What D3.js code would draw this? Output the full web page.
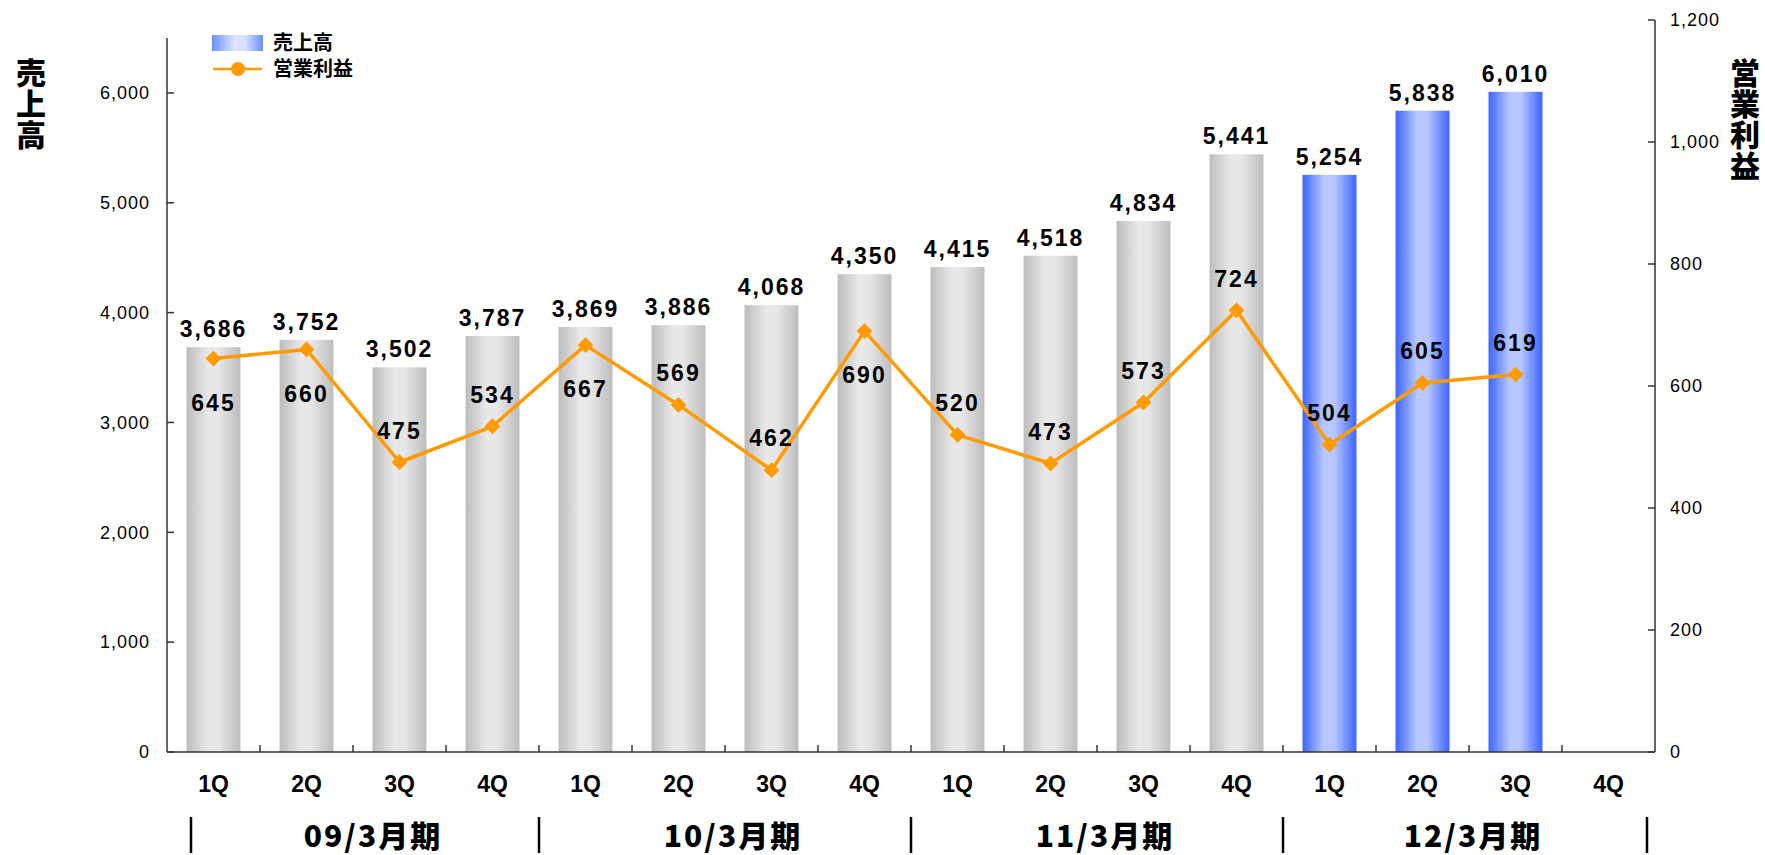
<!DOCTYPE html>
<html>
<head>
<meta charset="utf-8">
<script src="https://cdn.jsdelivr.net/npm/d3@7"></script>
<style>
  html, body { margin: 0; padding: 0; background: #fff; }
  svg { display: block; }
  text { font-family: "Liberation Sans", Arial, "Noto Sans CJK JP", sans-serif; fill: #000; }
  .jp { font-family: "Noto Sans CJK JP", sans-serif; }
  .vtitle { writing-mode: vertical-rl; text-orientation: upright; }
</style>
</head>
<body>
<div id="chart"></div>
<script>
(function () {
  "use strict";

  // quarters and fiscal periods
  const QUARTERS = ["1Q", "2Q", "3Q", "4Q", "1Q", "2Q", "3Q", "4Q", "1Q", "2Q", "3Q", "4Q", "1Q", "2Q", "3Q", "4Q"];
  const PERIODS = ["09/3月期", "10/3月期", "11/3月期", "12/3月期"];
  const CURRENT_PERIOD = "12/3月期";
  // 売上高 (left axis) and 営業利益 (right axis), null = not yet reported
  const SALES = [3686, 3752, 3502, 3787, 3869, 3886, 4068, 4350, 4415, 4518, 4834, 5441, 5254, 5838, 6010, null];
  const PROFIT = [645, 660, 475, 534, 667, 569, 462, 690, 520, 473, 573, 724, 504, 605, 619, null];
  const LEFT_TICKS = [0, 1000, 2000, 3000, 4000, 5000, 6000];
  const RIGHT_TICKS = [0, 200, 400, 600, 800, 1000, 1200];

  const width = 1765;
  const height = 855;
  const plotLeft = 167;
  const plotRight = 1655;
  const baseY = 752;
  const leftTop = 38;
  const rightTop = 20;
  const orange = "#ff9a00";

  const rows = QUARTERS.map((q, i) => ({
    i, q,
    period: PERIODS[Math.floor(i / 4)],
    sales: SALES[i],
    profit: PROFIT[i]
  }));

  const svg = d3.select("#chart").append("svg")
    .attr("width", width)
    .attr("height", height);

  // gradients for bars and legend swatch
  const defs = svg.append("defs");
  function hGradient(id, stops) {
    const g = defs.append("linearGradient").attr("id", id)
      .attr("x1", "0%").attr("x2", "100%").attr("y1", "0%").attr("y2", "0%");
    stops.forEach(([o, c]) => g.append("stop").attr("offset", o).attr("stop-color", c));
  }
  hGradient("grey-bar", [["0%", "#bcbcbc"], ["40%", "#e9e9e9"], ["60%", "#e6e6e6"], ["100%", "#bdbdbd"]]);
  hGradient("blue-bar", [["0%", "#3c64ff"], ["40%", "#b9c9ff"], ["60%", "#b6c6ff"], ["100%", "#3c64ff"]]);
  hGradient("blue-legend", [["0%", "#6a90ff"], ["45%", "#dde6ff"], ["65%", "#d5e0ff"], ["100%", "#6a90ff"]]);

  const x = d3.scaleBand()
    .domain(rows.map((d) => d.i))
    .range([plotLeft, plotRight])
    .paddingInner(0.42)
    .paddingOuter(0.21);
  const step = x.step();
  const yL = d3.scaleLinear().domain([0, 6500]).range([baseY, leftTop]);
  const yR = d3.scaleLinear().domain([0, 1200]).range([baseY, rightTop]);
  const cx = (d) => x(d.i) + x.bandwidth() / 2;

  // bars
  const withSales = rows.filter((d) => d.sales != null);
  svg.append("g").selectAll("rect")
    .data(withSales)
    .join("rect")
    .attr("x", (d) => x(d.i))
    .attr("width", x.bandwidth())
    .attr("y", (d) => yL(d.sales))
    .attr("height", (d) => baseY - yL(d.sales))
    .attr("fill", (d) => d.period === CURRENT_PERIOD ? "url(#blue-bar)" : "url(#grey-bar)");

  // axes
  const axisColor = "#333";
  const axes = svg.append("g").attr("stroke", axisColor).attr("stroke-width", 1.5).attr("fill", "none");
  axes.append("line").attr("x1", plotLeft).attr("x2", plotLeft).attr("y1", leftTop).attr("y2", baseY);
  axes.append("line").attr("x1", plotRight).attr("x2", plotRight).attr("y1", rightTop).attr("y2", baseY);
  axes.append("line").attr("x1", plotLeft).attr("x2", plotRight).attr("y1", baseY).attr("y2", baseY);
  // inner ticks
  LEFT_TICKS.forEach((t) => axes.append("line")
    .attr("x1", plotLeft).attr("x2", plotLeft + 7).attr("y1", yL(t)).attr("y2", yL(t)));
  RIGHT_TICKS.forEach((t) => axes.append("line")
    .attr("x1", plotRight - 7).attr("x2", plotRight).attr("y1", yR(t)).attr("y2", yR(t)));
  d3.range(1, QUARTERS.length).forEach((k) => axes.append("line")
    .attr("x1", plotLeft + k * step).attr("x2", plotLeft + k * step)
    .attr("y1", baseY).attr("y2", baseY - 7));

  const fmt = d3.format(",");
  svg.append("g").selectAll("text")
    .data(LEFT_TICKS)
    .join("text")
    .attr("x", plotLeft - 17)
    .attr("y", (t) => yL(t))
    .attr("dy", "0.35em")
    .attr("text-anchor", "end")
    .attr("font-size", 18)
    .attr("letter-spacing", 1)
    .text(fmt);
  svg.append("g").selectAll("text")
    .data(RIGHT_TICKS)
    .join("text")
    .attr("x", plotRight + 15)
    .attr("y", (t) => yR(t))
    .attr("dy", "0.35em")
    .attr("font-size", 18)
    .attr("letter-spacing", 1)
    .text(fmt);

  // quarter labels
  svg.append("g").selectAll("text")
    .data(rows)
    .join("text")
    .attr("x", cx)
    .attr("y", baseY + 32)
    .attr("dy", "0.36em")
    .attr("text-anchor", "middle")
    .attr("font-size", 23)
    .attr("font-weight", "bold")
    .text((d) => d.q);

  // fiscal period separators and labels
  const sepX = d3.range(PERIODS.length + 1).map((k) => {
    let v = plotLeft + k * 4 * step;
    if (k === 0) v += 24;
    if (k === PERIODS.length) v -= 8;
    return v;
  });
  svg.append("g").selectAll("line")
    .data(sepX)
    .join("line")
    .attr("x1", (v) => v).attr("x2", (v) => v)
    .attr("y1", 817).attr("y2", 853)
    .attr("stroke", "#000").attr("stroke-width", 2.5);
  svg.append("g").selectAll("text")
    .data(PERIODS)
    .join("text")
    .attr("class", "jp")
    .attr("x", (p, k) => (sepX[k] + sepX[k + 1]) / 2 + 8)
    .attr("y", 836)
    .attr("dy", "0.36em")
    .attr("text-anchor", "middle")
    .attr("font-size", 30)
    .attr("font-weight", 900)
    .attr("letter-spacing", 2)
    .text((p) => p);

  // profit line
  const withProfit = rows.filter((d) => d.profit != null);
  svg.append("path")
    .datum(withProfit)
    .attr("fill", "none")
    .attr("stroke", orange)
    .attr("stroke-width", 3.5)
    .attr("stroke-linejoin", "round")
    .attr("d", d3.line().x(cx).y((d) => yR(d.profit)));
  svg.append("g").selectAll("path")
    .data(withProfit)
    .join("path")
    .attr("transform", (d) => `translate(${cx(d)},${yR(d.profit)})`)
    .attr("d", d3.symbol(d3.symbolDiamond2, 160))
    .attr("fill", orange);

  // bar labels
  svg.append("g").selectAll("text")
    .data(withSales)
    .join("text")
    .attr("x", cx)
    .attr("y", (d) => yL(d.sales) - 10)
    .attr("text-anchor", "middle")
    .attr("font-size", 23)
    .attr("font-weight", "bold")
    .attr("letter-spacing", 2)
    .text((d) => fmt(d.sales));

  // profit labels: below the point when the bar label sits just above it
  svg.append("g").selectAll("text")
    .data(withProfit)
    .join("text")
    .attr("x", cx)
    .attr("y", (d) => {
      const py = yR(d.profit);
      const close = d.sales != null && py - yL(d.sales) < 70;
      return close ? py + 44 : py - 32;
    })
    .attr("dy", "0.36em")
    .attr("text-anchor", "middle")
    .attr("font-size", 23)
    .attr("font-weight", "bold")
    .attr("letter-spacing", 2)
    .text((d) => fmt(d.profit));

  // legend
  const lg = svg.append("g");
  lg.append("rect").attr("x", 212).attr("y", 35).attr("width", 51).attr("height", 16)
    .attr("fill", "url(#blue-legend)");
  lg.append("line").attr("x1", 213).attr("x2", 262).attr("y1", 69).attr("y2", 69)
    .attr("stroke", orange).attr("stroke-width", 2.5);
  lg.append("circle").attr("cx", 238).attr("cy", 69).attr("r", 7).attr("fill", orange);
  lg.append("text").attr("class", "jp").attr("x", 273).attr("y", 43).attr("dy", "0.36em")
    .attr("font-size", 20).attr("font-weight", "bold").text("売上高");
  lg.append("text").attr("class", "jp").attr("x", 273).attr("y", 69).attr("dy", "0.36em")
    .attr("font-size", 20).attr("font-weight", "bold").text("営業利益");

  // vertical axis titles
  function verticalTitle(str, xc, yTop) {
    svg.append("text")
      .attr("class", "jp vtitle")
      .attr("x", xc)
      .attr("y", yTop)
      .attr("font-size", 30)
      .attr("font-weight", 900)
      .attr("letter-spacing", 1)
      .text(str);
  }
  verticalTitle("売上高", 31, 58);
  verticalTitle("営業利益", 1745, 58);
})();
</script>
</body>
</html>
